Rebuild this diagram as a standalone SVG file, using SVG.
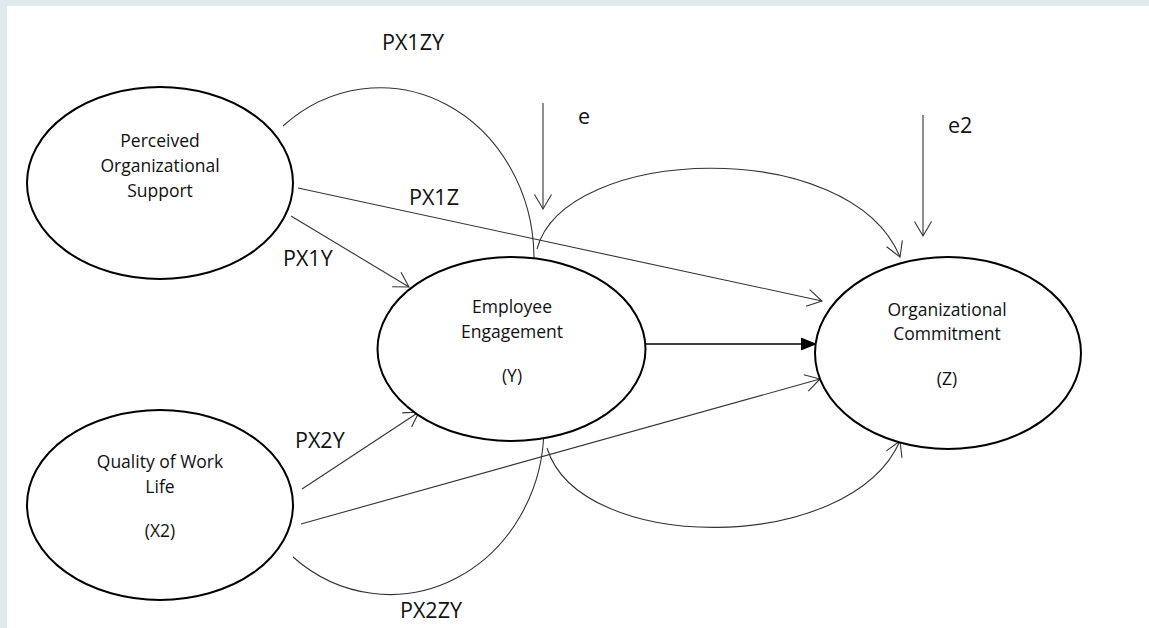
<svg xmlns="http://www.w3.org/2000/svg" width="1149" height="628" viewBox="0 0 1149 628">
<style>
.node{fill:#fff;stroke:#000;stroke-width:2}
.nt{font-family:"Open Sans","Noto Sans",sans-serif;font-size:17.5px;fill:#111;text-anchor:middle}
.lb{font-family:"Open Sans","Noto Sans",sans-serif;font-size:21.5px;fill:#111}
.c{fill:none;stroke:#333;stroke-width:1.1}
</style>
<defs>
<marker id="open" markerUnits="userSpaceOnUse" viewBox="-16 -10 18 20" refX="0" refY="0" markerWidth="18" markerHeight="20" orient="auto" overflow="visible">
<path d="M-14.5,-8.5 L0,0 L-14.5,8.5" fill="none" stroke="#333" stroke-width="1.1"/>
</marker>
<marker id="solid" markerUnits="userSpaceOnUse" viewBox="-17 -7 18 14" refX="0" refY="0" markerWidth="18" markerHeight="14" orient="auto" overflow="visible">
<path d="M-16,-6.5 L0,0 L-16,6.5 Z" fill="#000"/>
</marker>
</defs>
<rect x="0" y="0" width="1149" height="628" fill="#fff"/>
<rect x="0" y="0" width="1149" height="6" fill="#e0e9eb"/>
<rect x="0" y="0" width="7" height="628" fill="#e0e9eb"/>

<g id="connectors">
<path class="c" d="M283,126 A154,171 0 0,1 534,258"/>
<path class="c" d="M537,249 C565,145 850,135 900,257" marker-end="url(#open)"/>
<line class="c" x1="298" y1="188" x2="822" y2="301" marker-end="url(#open)"/>
<line class="c" x1="291" y1="216" x2="409" y2="287" marker-end="url(#open)"/>
<line class="c" x1="302" y1="489" x2="419" y2="412" marker-end="url(#open)"/>
<line class="c" x1="301" y1="524" x2="820" y2="379" marker-end="url(#open)"/>
<path class="c" d="M293,557 A154,168 0 0,0 544,427"/>
<path class="c" d="M547,448 C580,555 850,555 900,441" marker-end="url(#open)"/>
<line x1="646" y1="344" x2="817" y2="344" stroke="#000" stroke-width="1.3" marker-end="url(#solid)"/>
<line class="c" x1="543" y1="103" x2="543" y2="209" marker-end="url(#open)"/>
<line class="c" x1="923" y1="115" x2="923" y2="236" marker-end="url(#open)"/>
</g>

<g id="n-pos">
<ellipse class="node" cx="160" cy="183" rx="133" ry="96"/>
<text class="nt" x="160" y="147">Perceived</text>
<text class="nt" x="160" y="172">Organizational</text>
<text class="nt" x="160" y="197">Support</text>
</g>
<g id="n-qwl">
<ellipse class="node" cx="160" cy="505" rx="133" ry="95"/>
<text class="nt" x="160" y="468">Quality of Work</text>
<text class="nt" x="160" y="493">Life</text>
<text class="nt" x="160" y="537">(X2)</text>
</g>
<g id="n-ee">
<ellipse class="node" cx="511.5" cy="349" rx="134" ry="92"/>
<text class="nt" x="512" y="313">Employee</text>
<text class="nt" x="512" y="338">Engagement</text>
<text class="nt" x="512" y="382">(Y)</text>
</g>
<g id="n-oc">
<ellipse class="node" cx="948" cy="353" rx="133" ry="96"/>
<text class="nt" x="947" y="316">Organizational</text>
<text class="nt" x="947" y="340">Commitment</text>
<text class="nt" x="947" y="385">(Z)</text>
</g>

<g id="labels">
<text class="lb" x="382" y="50">PX1ZY</text>
<text class="lb" x="409" y="205">PX1Z</text>
<text class="lb" x="283" y="266">PX1Y</text>
<text class="lb" x="295" y="448">PX2Y</text>
<text class="lb" x="400" y="618">PX2ZY</text>
<text class="lb" x="578" y="124">e</text>
<text class="lb" x="948" y="133">e2</text>
</g>
</svg>
